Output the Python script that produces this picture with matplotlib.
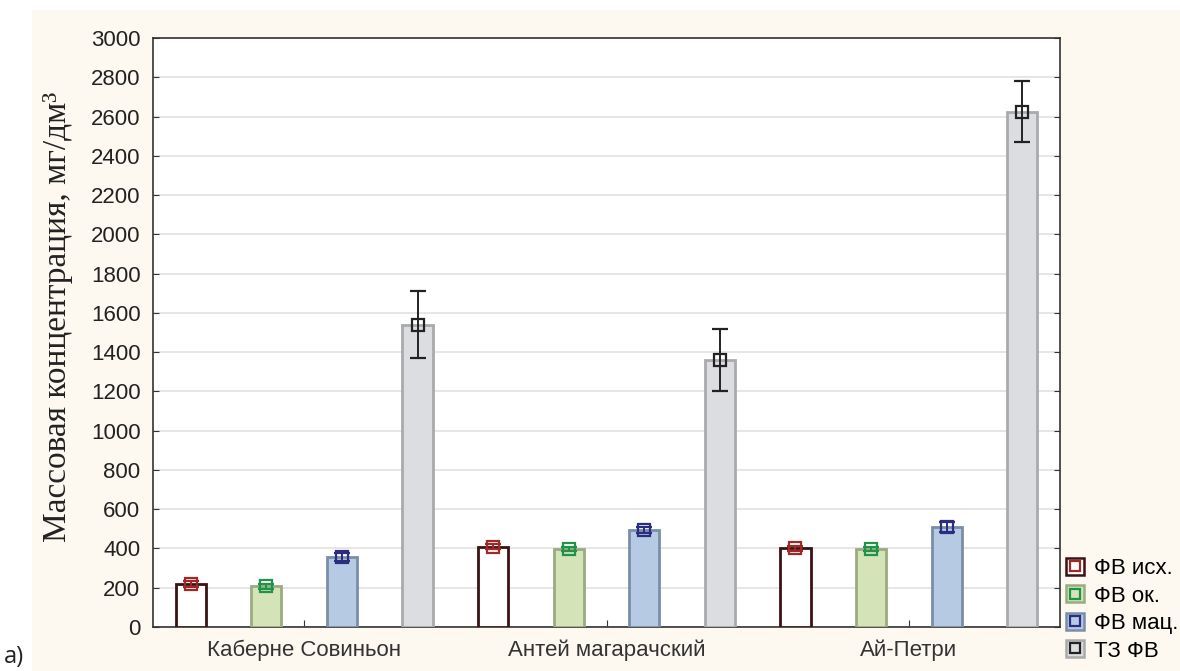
import matplotlib
matplotlib.use("Agg")
import matplotlib.pyplot as plt
import numpy as np
from matplotlib.patches import Rectangle, Patch
from matplotlib.lines import Line2D

categories = ["Каберне Совиньон", "Антей магарачский", "Ай-Петри"]
series = ["ФВ исх.", "ФВ ок.", "ФВ мац.", "ТЗ ФВ"]
vals_isx = [220, 410, 400]
vals_ok = [208, 397, 395]
vals_mac = [355, 495, 508]
vals_tz = [1540, 1360, 2625]
err_isx = [15, 12, 12]
err_ok = [12, 12, 10]
err_mac = [20, 15, 25]
err_tz = [170, 160, 155]
yticks = list(range(0, 3001, 200))

values = [vals_isx, vals_ok, vals_mac, vals_tz]
errors = [err_isx, err_ok, err_mac, err_tz]
fills = ["#ffffff", "#d5e3b9", "#b7cae3", "#dcdde0"]
edges = ["#3a1212", "#9aab82", "#7a8ea8", "#a9aaac"]
mcolors = ["#a02828", "#1e9448", "#2a2d80", "#222222"]

fig = plt.figure(figsize=(11.8, 6.71), dpi=100)
fig.patch.set_facecolor("white")
fig.add_artist(Rectangle((32/1180, 0), 1 - 32/1180, 1 - 10/671,
                         transform=fig.transFigure, facecolor="#fdf9f0",
                         edgecolor="none", zorder=-10))

ax = fig.add_axes([153/1180, 1 - 627/671, (1060-153)/1180, (627-38)/671])
ax.set_facecolor("white")

x = np.arange(len(categories))
offsets = [-0.375, -0.125, 0.125, 0.375]
width = 0.1
for i in range(4):
    xp = x + offsets[i]
    ax.bar(xp, values[i], width=width, color=fills[i], edgecolor=edges[i],
           linewidth=2.0, zorder=3)
    ax.errorbar(xp, values[i], yerr=errors[i], fmt="s", mfc="none",
                mec=mcolors[i], ecolor=mcolors[i], ms=9, mew=1.6,
                elinewidth=1.4, capsize=5.5, capthick=1.4, zorder=4)

ax.set_xlim(-0.5, 2.5)
ax.set_ylim(0, 3000)
ax.set_yticks(yticks)
ax.set_xticks(x)
ax.set_xticklabels(categories, fontsize=16, family="Liberation Sans", color="#222222")
ax.tick_params(axis="y", labelsize=16, direction="in", length=4, right=True,
               colors="#333333", labelcolor="#222222", pad=9)
ax.tick_params(axis="x", direction="in", length=5, colors="#333333", pad=9)
for lab in ax.get_yticklabels():
    lab.set_family("Liberation Sans")
ax.yaxis.grid(True, color="#e2e2e2", linewidth=1.2, zorder=0)
ax.set_axisbelow(True)
for sp in ax.spines.values():
    sp.set_color("#333333")
    sp.set_linewidth(1.2)

ax.set_ylabel("Массовая концентрация, мг/дм³", family="Liberation Serif",
              fontsize=24, color="#222222")
ax.yaxis.set_label_coords((58 - 153) / (1060 - 153), (627 - 317) / (627 - 38))
ax.yaxis.label.set_va("center")

handles = []
for i in range(4):
    handles.append((Patch(facecolor=fills[i], edgecolor=edges[i], linewidth=1.8),
                    Line2D([], [], marker="s", mfc="none", mec=mcolors[i], ms=7, mew=1.6, ls="none")))
leg = fig.legend(handles, series, loc="upper left",
                 bbox_to_anchor=(1066/1180, 1 - 558/671), frameon=False,
                 prop={"family": "Liberation Sans", "size": 16},
                 handlelength=0.8, handleheight=0.8, handletextpad=0.45,
                 labelspacing=0.28, borderaxespad=0, borderpad=0)

fig.text(4/1180, 2/671, "а)", fontsize=17, family="Open Sans", color="#222222",
         va="bottom")

fig.savefig("out.png", dpi=100)
